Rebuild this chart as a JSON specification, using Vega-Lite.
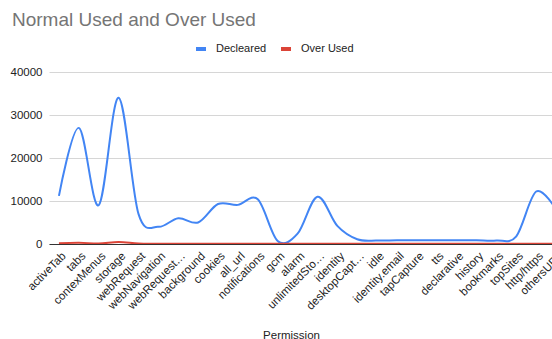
{
  "$schema": "https://vega.github.io/schema/vega-lite/v6.json",
  "width": 517,
  "height": 172,
  "autosize": {"type": "none"},
  "padding": {"left": 49, "top": 72, "right": -14, "bottom": 95},
  "background": "white",
  "config": {"font": "Liberation Sans", "view": {"stroke": null}},
  "title": {
    "text": "Normal Used and Over Used",
    "anchor": "start",
    "frame": "group",
    "dx": -37,
    "offset": 12,
    "fontSize": 19,
    "font": "Liberation Sans",
    "fontWeight": "normal",
    "color": "#757575"
  },
  "data": {
    "values": [
      {"Permission": "activeTab", "Series": "Decleared", "Users": 11200},
      {"Permission": "tabs", "Series": "Decleared", "Users": 27000},
      {"Permission": "contexMenus", "Series": "Decleared", "Users": 9000},
      {"Permission": "storage", "Series": "Decleared", "Users": 34000},
      {"Permission": "webRequest", "Series": "Decleared", "Users": 7000},
      {"Permission": "webNavigation", "Series": "Decleared", "Users": 4000},
      {"Permission": "webRequest…", "Series": "Decleared", "Users": 6000},
      {"Permission": "background", "Series": "Decleared", "Users": 5000},
      {"Permission": "cookies", "Series": "Decleared", "Users": 9300},
      {"Permission": "all_url", "Series": "Decleared", "Users": 9100},
      {"Permission": "notifications", "Series": "Decleared", "Users": 10400},
      {"Permission": "gcm", "Series": "Decleared", "Users": 700},
      {"Permission": "alarm", "Series": "Decleared", "Users": 2400},
      {"Permission": "unlimitedSto…", "Series": "Decleared", "Users": 11000},
      {"Permission": "identity", "Series": "Decleared", "Users": 4200},
      {"Permission": "desktopCapt…", "Series": "Decleared", "Users": 1100},
      {"Permission": "idle", "Series": "Decleared", "Users": 800},
      {"Permission": "identity.email", "Series": "Decleared", "Users": 850},
      {"Permission": "tapCapture", "Series": "Decleared", "Users": 850},
      {"Permission": "tts", "Series": "Decleared", "Users": 850},
      {"Permission": "declarative", "Series": "Decleared", "Users": 850},
      {"Permission": "history", "Series": "Decleared", "Users": 850},
      {"Permission": "bookmarks", "Series": "Decleared", "Users": 800},
      {"Permission": "topSites", "Series": "Decleared", "Users": 1800},
      {"Permission": "http/https", "Series": "Decleared", "Users": 12200},
      {"Permission": "othersURL", "Series": "Decleared", "Users": 8000},
      {"Permission": "activeTab", "Series": "Over Used", "Users": 150},
      {"Permission": "tabs", "Series": "Over Used", "Users": 300},
      {"Permission": "contexMenus", "Series": "Over Used", "Users": 100},
      {"Permission": "storage", "Series": "Over Used", "Users": 450},
      {"Permission": "webRequest", "Series": "Over Used", "Users": 100},
      {"Permission": "webNavigation", "Series": "Over Used", "Users": 60},
      {"Permission": "webRequest…", "Series": "Over Used", "Users": 60},
      {"Permission": "background", "Series": "Over Used", "Users": 60},
      {"Permission": "cookies", "Series": "Over Used", "Users": 60},
      {"Permission": "all_url", "Series": "Over Used", "Users": 60},
      {"Permission": "notifications", "Series": "Over Used", "Users": 60},
      {"Permission": "gcm", "Series": "Over Used", "Users": 50},
      {"Permission": "alarm", "Series": "Over Used", "Users": 50},
      {"Permission": "unlimitedSto…", "Series": "Over Used", "Users": 60},
      {"Permission": "identity", "Series": "Over Used", "Users": 50},
      {"Permission": "desktopCapt…", "Series": "Over Used", "Users": 50},
      {"Permission": "idle", "Series": "Over Used", "Users": 50},
      {"Permission": "identity.email", "Series": "Over Used", "Users": 50},
      {"Permission": "tapCapture", "Series": "Over Used", "Users": 50},
      {"Permission": "tts", "Series": "Over Used", "Users": 50},
      {"Permission": "declarative", "Series": "Over Used", "Users": 50},
      {"Permission": "history", "Series": "Over Used", "Users": 50},
      {"Permission": "bookmarks", "Series": "Over Used", "Users": 50},
      {"Permission": "topSites", "Series": "Over Used", "Users": 50},
      {"Permission": "http/https", "Series": "Over Used", "Users": 60},
      {"Permission": "othersURL", "Series": "Over Used", "Users": 60}
    ]
  },
  "mark": {"type": "line", "interpolate": "cardinal", "strokeWidth": 2, "clip": true},
  "encoding": {
    "x": {
      "field": "Permission",
      "type": "nominal",
      "sort": null,
      "scale": {"type": "point", "padding": 0.5},
      "axis": {
        "title": "Permission",
        "titleFontSize": 11.5,
        "titleFontWeight": "normal",
        "titleColor": "#222222",
        "titleX": 242,
        "titleY": 94,
        "titleBaseline": "alphabetic",
        "titleAlign": "center",
        "labelAngle": -45,
        "labelAlign": "right",
        "labelBaseline": "middle",
        "labelFontSize": 11.5,
        "labelColor": "#222222",
        "labelPadding": 10,
        "labelOffset": 5,
        "labelOverlap": false,
        "labelLimit": 200,
        "ticks": false,
        "domain": true,
        "domainColor": "#333333",
        "domainWidth": 1,
        "grid": false
      }
    },
    "y": {
      "field": "Users",
      "type": "quantitative",
      "scale": {"domain": [0, 40000], "nice": false},
      "axis": {
        "title": null,
        "values": [0, 10000, 20000, 30000, 40000],
        "format": "d",
        "labelFontSize": 11.5,
        "labelColor": "#222222",
        "labelPadding": 7,
        "ticks": false,
        "domain": false,
        "grid": true,
        "gridColor": "#d6d6d6",
        "gridWidth": 1
      }
    },
    "color": {
      "field": "Series",
      "type": "nominal",
      "scale": {"domain": ["Decleared", "Over Used"], "range": ["#4285F4", "#DB4437"]},
      "legend": {
        "title": null,
        "orient": "none",
        "legendX": 145,
        "legendY": -30,
        "direction": "horizontal",
        "symbolType": "stroke",
        "symbolStrokeWidth": 4,
        "symbolSize": 100,
        "labelFontSize": 11,
        "labelColor": "#222222",
        "labelOffset": 8,
        "columnPadding": 6
      }
    }
  }
}
